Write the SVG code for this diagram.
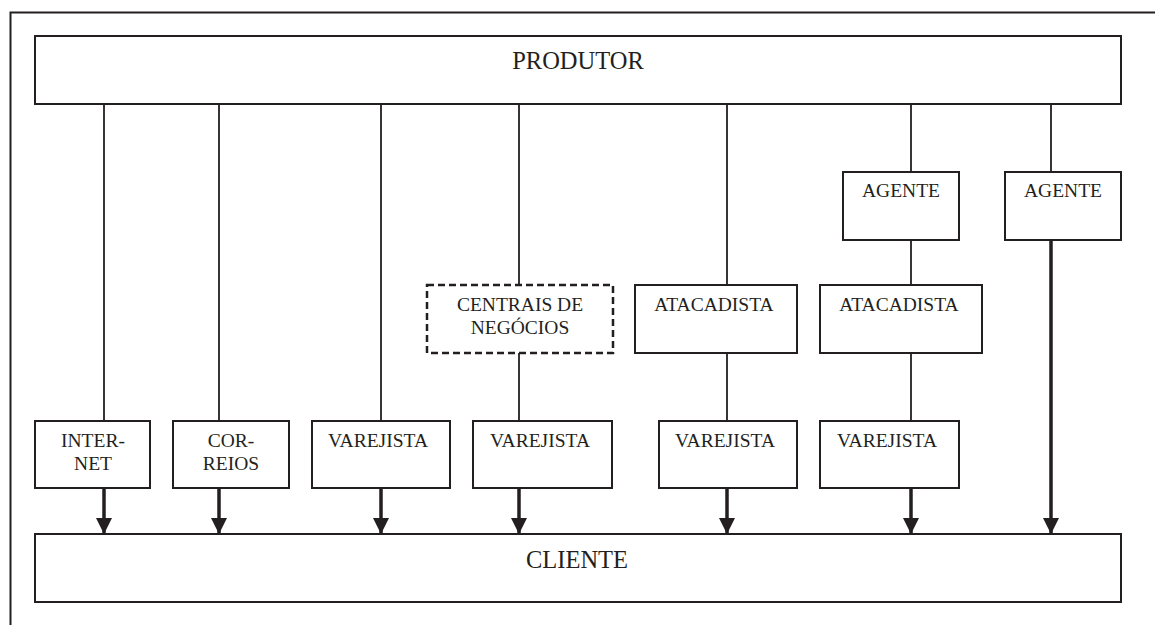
<svg xmlns="http://www.w3.org/2000/svg" width="1155" height="625" viewBox="0 0 1155 625">
<defs>
<style>
.box{fill:#fff;stroke:#231f20;stroke-width:2}
.dash{fill:#fff;stroke:#231f20;stroke-width:2.5;stroke-dasharray:7 4}
.t{font-family:"Liberation Serif","Times New Roman",serif;font-size:19.5px;fill:#231f20;text-anchor:middle}
.big{font-size:24.5px}
.thin{stroke:#231f20;stroke-width:1.8;fill:none}
.thick{stroke:#231f20;stroke-width:3.5;fill:none}
</style>
<marker id="ah" markerUnits="userSpaceOnUse" markerWidth="16" markerHeight="16" viewBox="0 0 16 16" refX="16" refY="8" orient="auto">
<path d="M0,0 L16,8 L0,16 Z" fill="#231f20"/>
</marker>
</defs>
<rect width="1155" height="625" fill="#fff"/>
<g id="frame">
<path d="M10.5,625 V12.5 H1155" fill="none" stroke="#231f20" stroke-width="2"/>
</g>
<g id="connectors">
<line class="thin" x1="104" y1="104" x2="104" y2="421"/>
<line class="thin" x1="219" y1="104" x2="219" y2="421"/>
<line class="thin" x1="381" y1="104" x2="381" y2="421"/>
<line class="thin" x1="519" y1="104" x2="519" y2="285"/>
<line class="thin" x1="519" y1="353" x2="519" y2="421"/>
<line class="thin" x1="727" y1="104" x2="727" y2="285"/>
<line class="thin" x1="727" y1="353" x2="727" y2="421"/>
<line class="thin" x1="911" y1="104" x2="911" y2="172"/>
<line class="thin" x1="911" y1="240" x2="911" y2="285"/>
<line class="thin" x1="911" y1="353" x2="911" y2="421"/>
<line class="thin" x1="1051" y1="104" x2="1051" y2="172"/>
<line class="thick" x1="104" y1="488" x2="104" y2="534" marker-end="url(#ah)"/>
<line class="thick" x1="219" y1="488" x2="219" y2="534" marker-end="url(#ah)"/>
<line class="thick" x1="381" y1="488" x2="381" y2="534" marker-end="url(#ah)"/>
<line class="thick" x1="519" y1="488" x2="519" y2="534" marker-end="url(#ah)"/>
<line class="thick" x1="727" y1="488" x2="727" y2="534" marker-end="url(#ah)"/>
<line class="thick" x1="911" y1="488" x2="911" y2="534" marker-end="url(#ah)"/>
<line class="thick" x1="1051" y1="240" x2="1051" y2="534" marker-end="url(#ah)"/>
</g>
<g id="produtor">
<rect class="box" x="35" y="36" width="1086" height="68"/>
<text class="t big" x="578" y="69">PRODUTOR</text>
</g>
<g id="cliente">
<rect class="box" x="35" y="534" width="1086" height="68"/>
<text class="t big" x="577" y="568">CLIENTE</text>
</g>
<g id="internet">
<rect class="box" x="35" y="421" width="115" height="67"/>
<text class="t" x="93" y="447">INTER-</text>
<text class="t" x="93" y="470">NET</text>
</g>
<g id="correios">
<rect class="box" x="173" y="421" width="116" height="67"/>
<text class="t" x="231" y="447">COR-</text>
<text class="t" x="231" y="470">REIOS</text>
</g>
<g id="varejista1">
<rect class="box" x="312" y="421" width="138" height="67"/>
<text class="t" x="378" y="447">VAREJISTA</text>
</g>
<g id="varejista2">
<rect class="box" x="473" y="421" width="139" height="67"/>
<text class="t" x="540" y="447">VAREJISTA</text>
</g>
<g id="varejista3">
<rect class="box" x="659" y="421" width="138" height="67"/>
<text class="t" x="725" y="447">VAREJISTA</text>
</g>
<g id="varejista4">
<rect class="box" x="820" y="421" width="139" height="67"/>
<text class="t" x="887" y="447">VAREJISTA</text>
</g>
<g id="centrais">
<rect class="dash" x="427" y="285" width="186" height="68"/>
<text class="t" x="520" y="311">CENTRAIS DE</text>
<text class="t" x="520" y="334">NEGÓCIOS</text>
</g>
<g id="atacadista1">
<rect class="box" x="635" y="285" width="162" height="68"/>
<text class="t" x="714" y="311">ATACADISTA</text>
</g>
<g id="atacadista2">
<rect class="box" x="820" y="285" width="162" height="68"/>
<text class="t" x="899" y="311">ATACADISTA</text>
</g>
<g id="agente1">
<rect class="box" x="843" y="172" width="116" height="68"/>
<text class="t" x="901" y="197">AGENTE</text>
</g>
<g id="agente2">
<rect class="box" x="1005" y="172" width="116" height="68"/>
<text class="t" x="1063" y="197">AGENTE</text>
</g>
</svg>
